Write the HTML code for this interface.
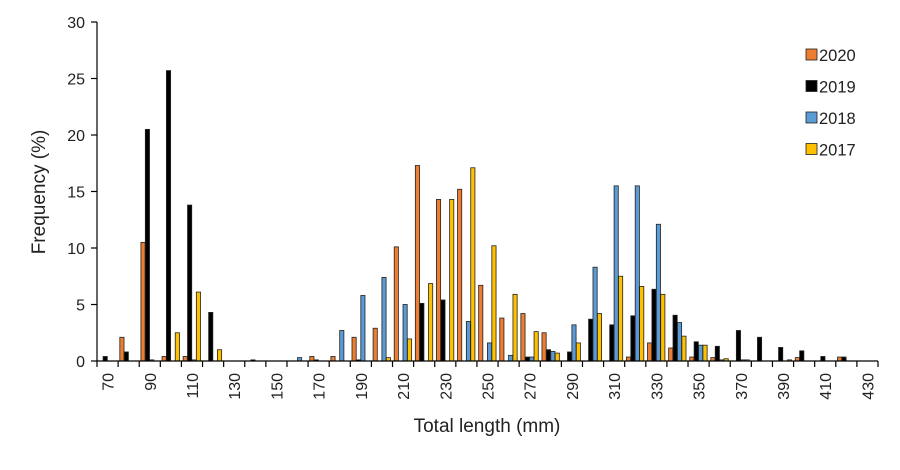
<!DOCTYPE html>
<html><head><meta charset="utf-8"><style>
body{margin:0;background:#fff;}
svg text{font-family:"Liberation Sans",Arial,sans-serif;fill:#222;}
</style></head><body>
<svg id="chart" width="900" height="465" viewBox="0 0 900 465" xmlns="http://www.w3.org/2000/svg">
<g id="bars"></g>
<g id="axes"></g>
<text transform="translate(45,192) rotate(-90)" text-anchor="middle" font-size="19">Frequency (%)</text>
<text x="487" y="432" text-anchor="middle" font-size="19">Total length (mm)</text>
<g id="legend"></g>
</svg>
<script>
const categories=[70,80,90,100,110,120,130,140,150,160,170,180,190,200,210,220,230,240,250,260,270,280,290,300,310,320,330,340,350,360,370,380,390,400,410,420,430];
const s2020=[0,2.1,10.5,0.4,0.4,0,0,0,0,0,0.4,0.4,2.1,2.9,10.1,17.3,14.3,15.2,6.7,3.8,4.2,2.5,0,0,0,0.35,1.6,1.15,0.35,0.3,0,0,0,0.3,0,0.35,0];
const s2019=[0.4,0.8,20.5,25.7,13.8,4.3,0,0.1,0,0,0.1,0,0.1,0,0,5.1,5.4,0,0,0,0.35,1.0,0.8,3.7,3.2,4.0,6.35,4.05,1.7,1.3,2.7,2.1,1.2,0.9,0.4,0.35,0];
const s2018=[0,0,0.1,0,0.1,0,0,0,0,0.3,0,2.7,5.8,7.4,5.0,0,0,3.5,1.6,0.5,0.35,0.85,3.2,8.3,15.5,15.5,12.1,3.4,1.4,0.1,0.1,0,0,0,0,0,0];
const s2017=[0,0,0,2.5,6.1,1.0,0,0,0,0,0,0,0,0.3,1.95,6.85,14.3,17.1,10.2,5.9,2.6,0.7,1.6,4.2,7.5,6.6,5.9,2.2,1.4,0.2,0.1,0,0.1,0,0,0,0];
const seriesNames=["2020","2019","2018","2017"];
const yTicks=[0,5,10,15,20,25,30];
const xTickLabels=[70,90,110,130,150,170,190,210,230,250,270,290,310,330,350,370,390,410,430];

const NS="http://www.w3.org/2000/svg";
const X0=97,X1=878,Y0=361,Y1=22,YMAX=30;
const colors=["#ED7D31","#000000","#5B9BD5","#FFC000"];
const series=[s2020,s2019,s2018,s2017];
const bw=(X1-X0)/categories.length;
const barW=4.4,pad=1.7;
function xs(i){return X0+i*bw;}
function ys(v){return Y0-(v/YMAX)*(Y0-Y1);}
function mk(tag,attrs,parent){const e=document.createElementNS(NS,tag);for(const k in attrs)e.setAttribute(k,attrs[k]);parent.appendChild(e);return e;}
const bars=document.getElementById('bars');
series.forEach((s,si)=>{
  s.forEach((v,i)=>{
    if(v<=0)return;
    const y=ys(v);
    const r=mk('rect',{x:xs(i)+pad+si*barW,y:y,width:barW-0.2,height:Y0-y,fill:colors[si],stroke:'#222','stroke-width':0.8},bars);
    
    
  });
});
const ax=document.getElementById('axes');
mk('line',{x1:X0,y1:Y1,x2:X0,y2:Y0,stroke:'#000','stroke-width':1.2},ax);
mk('line',{x1:X0,y1:Y0,x2:X1,y2:Y0,stroke:'#000','stroke-width':1.2},ax);
yTicks.forEach(t=>{
  const y=ys(t);
  mk('line',{x1:X0-6,y1:y,x2:X0,y2:y,stroke:'#000','stroke-width':1.2},ax);
  const tx=mk('text',{x:X0-12,y:y+6,'text-anchor':'end','font-size':16},ax);
  tx.textContent=t;
  
  
});
for(let i=0;i<=categories.length;i++){
  mk('line',{x1:xs(i),y1:Y0,x2:xs(i),y2:Y0+6,stroke:'#000','stroke-width':1.2},ax);
}
xTickLabels.forEach(t=>{
  const i=categories.indexOf(t);
  const cx=xs(i)+bw/2;
  const tx=mk('text',{transform:`translate(${cx+6},${Y0+12}) rotate(-90)`,'text-anchor':'end','font-size':16},ax);
  tx.textContent=t;
  
  
});
const lg=document.getElementById('legend');
seriesNames.forEach((n,i)=>{
  const y=49+i*31.5;
  const g=mk('g',{},lg);
  
  
  mk('rect',{x:806,y:y,width:11,height:11,fill:colors[i],stroke:'#222','stroke-width':0.8},g);
  const t=mk('text',{x:819,y:y+12,'font-size':16.5},g);
  t.textContent=n;
});
</script>
</body></html>
